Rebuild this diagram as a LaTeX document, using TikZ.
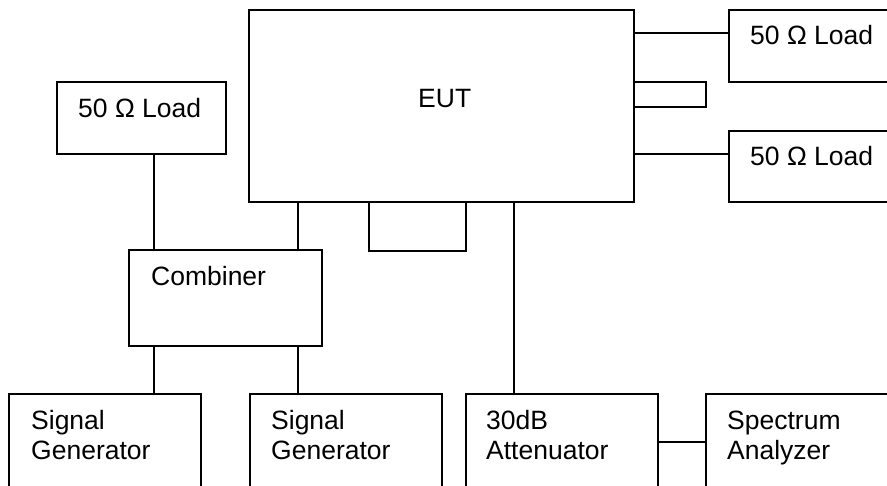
\documentclass[tikz,border=0pt]{standalone}
\usepackage{fontspec}
\setmainfont{Liberation Sans}
\usetikzlibrary{fit}
\begin{document}
\begin{tikzpicture}[x=1pt,y=-1pt,
  box/.style={draw=black,line width=1.6pt,inner sep=0pt,outer sep=0pt},
  wire/.style={draw=black,line width=1.6pt},
  lbl/.style={anchor=base west,inner sep=0pt,font=\fontsize{26.5}{30}\selectfont}]
\useasboundingbox[fill=white] (0,0) rectangle (887,486);
% boxes
\node[box,fit={(249,10) (634,202)}] (eut) {};
\node[box,fit={(729,10) (900,82)}] (loadA) {};
\node[box,fit={(729,131) (900,202)}] (loadB) {};
\node[box,fit={(57,82) (226,154)}] (loadL) {};
\node[box,fit={(129,250) (322,346)}] (comb) {};
\node[box,fit={(9,394) (201,500)}] (sg1) {};
\node[box,fit={(250,394) (442,500)}] (sg2) {};
\node[box,fit={(466,394) (658,500)}] (att) {};
\node[box,fit={(706,394) (900,500)}] (sa) {};
% labels
\node[lbl] (teut) at (418,108) {EUT};
\node[lbl] (tla) at (750,45) {50 Ω Load};
\node[lbl] (tlb) at (750,166) {50 Ω Load};
\node[lbl] (tll) at (78,118) {50 Ω Load};
\node[lbl] (tcomb) at (151,286) {Combiner};
\node[lbl] (tsg1a) at (31,430) {Signal};
\node[lbl] (tsg1b) at (31,460) {Generator};
\node[lbl] (tsg2a) at (271,430) {Signal};
\node[lbl] (tsg2b) at (271,460) {Generator};
\node[lbl] (tatta) at (486,430) {30dB};
\node[lbl] (tattb) at (486,460) {Attenuator};
\node[lbl] (tsaa) at (727,430) {Spectrum};
\node[lbl] (tsab) at (727,460) {Analyzer};
% helper coordinates
\coordinate (yA) at (0,33);
\coordinate (yB) at (0,154);
\coordinate (rl1) at (706,82);
\coordinate (rl2) at (706,107);
\coordinate (bl1) at (369,251);
\coordinate (bl2) at (466,251);
\coordinate (xL) at (154,0);
\coordinate (xR) at (298,0);
\coordinate (xAtt) at (514,0);
\coordinate (yAtt) at (0,442);
% connectors
\draw[wire] (eut.east |- yA) -- (loadA.west |- yA);
\draw[wire] (eut.east |- rl1) -- (rl1) -- (rl2) -- (eut.east |- rl2);
\draw[wire] (eut.east |- yB) -- (loadB.west |- yB);
\draw[wire] (eut.south -| bl1) -- (bl1) -- (bl2) -- (eut.south -| bl2);
\draw[wire] (loadL.south -| xL) -- (comb.north -| xL);
\draw[wire] (eut.south -| xR) -- (comb.north -| xR);
\draw[wire] (comb.south -| xL) -- (sg1.north -| xL);
\draw[wire] (comb.south -| xR) -- (sg2.north -| xR);
\draw[wire] (eut.south -| xAtt) -- (att.north -| xAtt);
\draw[wire] (att.east |- yAtt) -- (sa.west |- yAtt);
\end{tikzpicture}
\end{document}
